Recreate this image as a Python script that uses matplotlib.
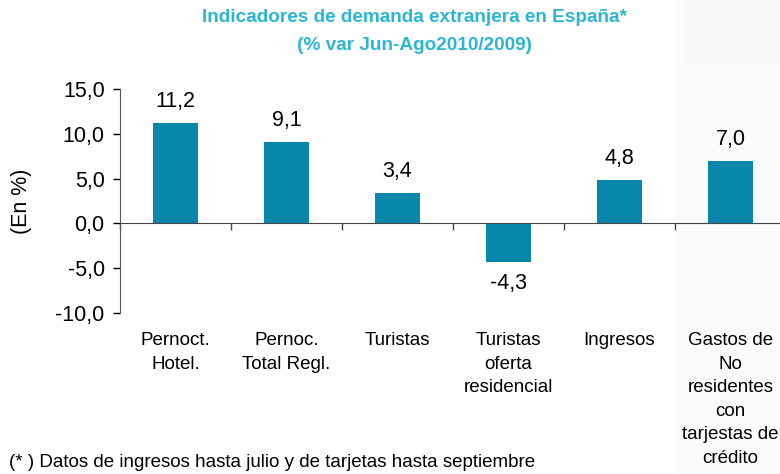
import matplotlib
matplotlib.use("Agg")
import matplotlib.pyplot as plt
import matplotlib.patches as mpatches
import matplotlib.transforms as mtransforms

plt.rcParams['font.family'] = ['Liberation Sans', 'DejaVu Sans']

categories = ["Pernoct.\nHotel.", "Pernoc.\nTotal Regl.", "Turistas",
              "Turistas\noferta\nresidencial", "Ingresos",
              "Gastos de\nNo\nresidentes\ncon\ntarjestas de\ncrédito"]
values = [11.2, 9.1, 3.4, -4.3, 4.8, 7.0]
yticks = [-10, -5, 0, 5, 10, 15]

bar_color = "#0787aa"
title_color = "#2db6d3"

fig = plt.figure(figsize=(7.8, 4.74), dpi=100)

# faint background blocks on the right side
fig.patches.append(mpatches.Rectangle((0.865, 0.0), 0.135, 1.0, transform=fig.transFigure,
                                      color="#fafbfc", zorder=0))
fig.patches.append(mpatches.Rectangle((0.878, 0.87), 0.122, 0.13, transform=fig.transFigure,
                                      color="#f6f7f9", zorder=0))

ax = fig.add_axes([0.1538, 0.3397, 0.8539, 0.4725])
ax.set_zorder(2)
ax.patch.set_alpha(0)

x = list(range(len(values)))
ax.bar(x, values, width=0.41, color=bar_color, zorder=2)

for xi, v in zip(x, values):
    label = f"{v:.1f}".replace(".", ",")
    if v >= 0:
        ax.annotate(label, (xi, v), xytext=(0, 8), textcoords="offset points",
                    ha="center", va="bottom", fontsize=15.5)
    else:
        ax.annotate(label, (xi, v), xytext=(0, -8), textcoords="offset points",
                    ha="center", va="top", fontsize=15.5)

ax.set_xlim(-0.5, len(values) - 0.5)
ax.set_ylim(-10, 15)
ax.set_yticks(yticks)
ax.set_yticklabels([f"{t:.1f}".replace(".", ",") for t in yticks], fontsize=15.5)
ax.tick_params(axis="y", direction="out", length=5, width=1, pad=6)

ax.spines["top"].set_visible(False)
ax.spines["right"].set_visible(False)
ax.spines["left"].set_color("#555555")
ax.spines["bottom"].set_position(("data", 0))
ax.spines["bottom"].set_color("#444444")
ax.spines["bottom"].set_zorder(3)

ax.set_xticks([i - 0.5 for i in range(len(values) + 1)])
ax.set_xticklabels([])
ax.tick_params(axis="x", direction="out", length=5, width=1, color="#444444")

trans = mtransforms.blended_transform_factory(ax.transData, ax.transAxes)
for xi, cat in zip(x, categories):
    ax.text(xi, -0.085, cat, transform=trans, ha="center", va="top",
            fontsize=13.5, linespacing=1.5)

ax.set_ylabel("(En %)", fontsize=15.5)
ax.yaxis.set_label_coords(-0.132, 0.5)

fig.text(0.532, 0.963, "Indicadores de demanda extranjera en España*",
         ha="center", va="center", fontsize=13.7, fontweight="bold", color=title_color)
fig.text(0.532, 0.903, "(% var Jun-Ago2010/2009)",
         ha="center", va="center", fontsize=13.7, fontweight="bold", color=title_color)

fig.text(0.012, 0.025, "(* ) Datos de ingresos hasta julio y de tarjetas hasta septiembre",
         ha="left", va="center", fontsize=13.5)

fig.savefig("out.png", dpi=100)
